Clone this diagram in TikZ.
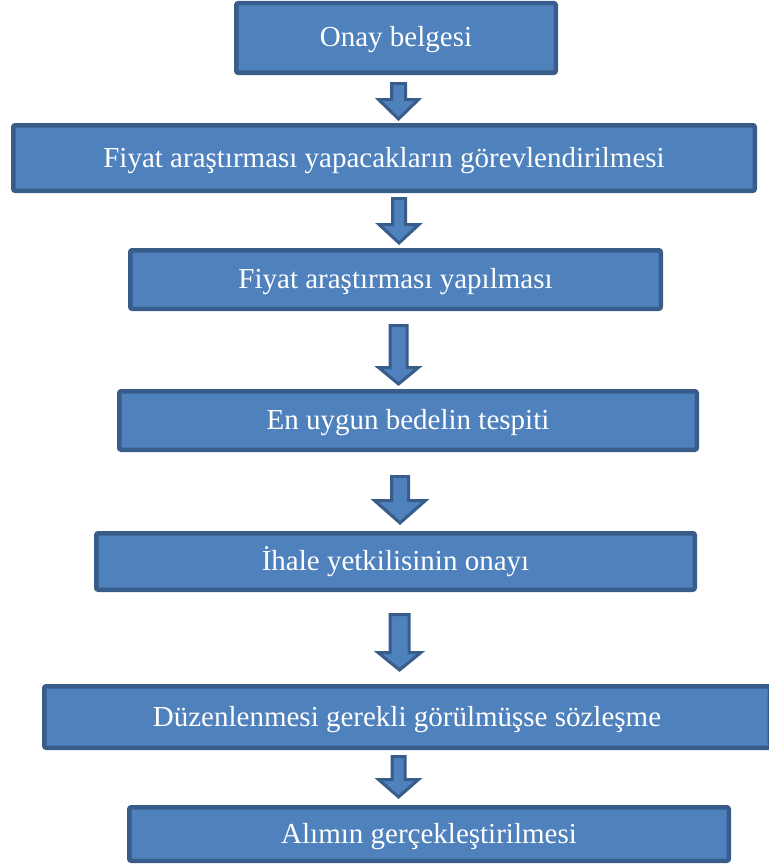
\documentclass[tikz,border=0pt]{standalone}
\usepackage{fontspec}
\setmainfont{Liberation Serif}
\definecolor{stepfill}{HTML}{4F81BD}
\definecolor{stepline}{HTML}{385D8A}
\tikzset{
  stepbox/.style={draw=stepline, fill=stepfill, line width=4.5pt, rounded corners=2pt,
    text=white, font=\fontsize{29}{32}\selectfont, inner sep=0pt, anchor=center,
    text height=22pt, text depth=4pt},
  blockarrow/.style={draw=stepline, fill=stepfill, line width=3pt, line join=miter}
}
% down-pointing block arrow: centre x, top, start of head, tip, shaft half width, head half width
\newcommand\flowarrow[6]{%
  \draw[blockarrow] (#1-#5,#2) -- (#1+#5,#2) -- (#1+#5,#3) -- (#1+#6,#3) -- (#1,#4)
    -- (#1-#6,#3) -- (#1-#5,#3) -- cycle;}
\begin{document}
\begin{tikzpicture}[x=1pt,y=-1pt]
\useasboundingbox (0,0) rectangle (768,867);

\node[stepbox, minimum width=319.5pt, minimum height=69.5pt] (s1) at (396,38) {Onay belgesi};
\node[stepbox, minimum width=741.5pt, minimum height=65.5pt] (s2) at (384,158) {Fiyat araştırması yapacakların görevlendirilmesi};
\node[stepbox, minimum width=530.5pt, minimum height=58.5pt] (s3) at (395.5,279.5) {Fiyat araştırması yapılması};
\node[stepbox, minimum width=577.5pt, minimum height=58.5pt] (s4) at (408,420.5) {En uygun bedelin tespiti};
\node[stepbox, minimum width=598.5pt, minimum height=56.5pt] (s5) at (395.5,561.5) {İhale yetkilisinin onayı};
\node[stepbox, minimum width=725.5pt, minimum height=61.5pt] (s6) at (407,717) {Düzenlenmesi gerekli görülmüşse sözleşme};
\node[stepbox, minimum width=599.5pt, minimum height=53.5pt] (s7) at (429,834) {Alımın gerçekleştirilmesi};

% arrows between the steps
\flowarrow{398.5}{83.5}{99.5}{119}{7}{20}
\flowarrow{399}{198.5}{224.5}{243}{6.5}{20}
\flowarrow{398.5}{325.5}{367.5}{384}{8.5}{20}
\flowarrow{400}{476.5}{500.5}{523}{8.5}{25.5}
\flowarrow{399.5}{614.5}{652.5}{670}{9.5}{21.5}
\flowarrow{398.5}{756.5}{779.5}{797}{6.5}{20}
\end{tikzpicture}
\end{document}
